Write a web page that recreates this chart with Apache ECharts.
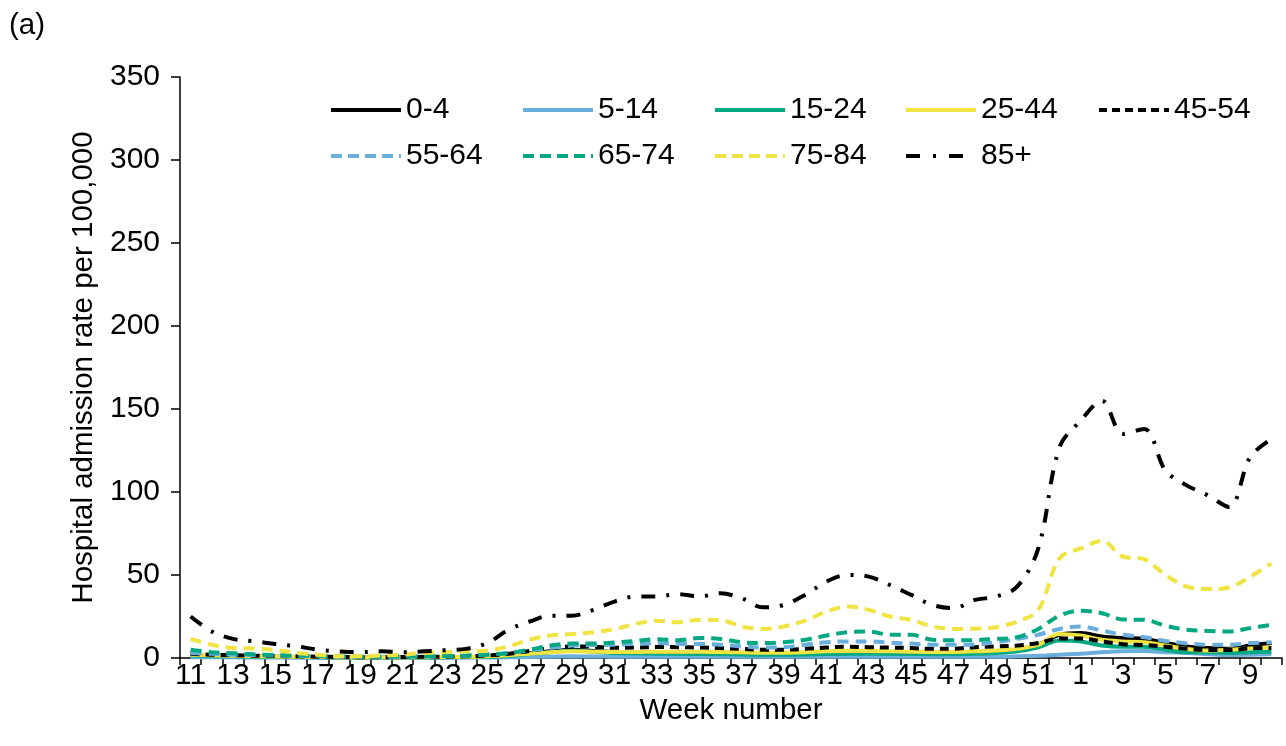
<!DOCTYPE html>
<html>
<head>
<meta charset="utf-8">
<script src="https://cdn.jsdelivr.net/npm/echarts@6/dist/echarts.min.js"></script>
<style>
html,body{margin:0;padding:0;background:#fff;}
#chart{width:1286px;height:746px;}
</style>
</head>
<body>
<div id="chart"></div>
<script>
const weeks = [11,12,13,14,15,16,17,18,19,20,21,22,23,24,25,26,27,28,29,30,31,32,33,34,35,36,37,38,39,40,41,42,43,44,45,46,47,48,49,50,51,52,1,2,3,4,5,6,7,8,9,10];

const age0_4 = [2,1.5,1.2,1,0.8,0.6,0.5,0.5,0.4,0.4,0.4,0.5,0.5,0.6,0.8,1.5,3,4,5,4.2,3.6,3.5,3.4,3.4,3.2,3,2.8,2.5,2.6,2.8,3.2,3.4,3.4,3.2,3,2.9,3,3.3,4,5,8,14,15,13,12,11.5,9,7,6,5.5,7.5,9];
const age5_14 = [0.5,0.4,0.4,0.3,0.3,0.3,0.3,0.3,0.3,0.3,0.3,0.3,0.3,0.3,0.3,0.4,0.6,0.8,1,0.9,0.8,0.8,0.8,0.8,0.8,0.8,0.8,0.8,0.8,0.8,0.8,0.8,0.8,0.8,0.8,0.8,0.8,0.8,0.8,1,1.3,2,2.5,3.5,4,4.2,3.5,3,2.3,1.8,2,2.3];
const age15_24 = [1.5,1.2,1,0.8,0.6,0.5,0.4,0.3,0.3,0.3,0.3,0.3,0.4,0.5,0.7,1.2,2.5,3.5,4.5,3.8,3,2.8,2.6,2.5,2.4,2.3,2.1,2,2,2.1,2.4,2.6,2.6,2.5,2.4,2.3,2.3,2.5,3,4,6.5,10.5,10,7.5,6.8,6.8,5,3.5,3.5,3,3.5,3.8];
const age25_44 = [2,1.6,1.3,1.1,0.9,0.7,0.6,0.5,0.4,0.4,0.5,0.5,0.6,0.7,1,1.6,2.6,3.5,4,3.8,3.6,3.6,3.8,3.8,3.7,3.6,3.4,3.2,3.2,3.5,4,4.3,4.2,4,3.8,3.6,3.6,4,4.5,5.5,8,14.5,13.5,11,10,9.5,7.5,5.5,4.5,5,5.8,6.5];
const age45_54 = [2.5,2,1.7,1.4,1.2,1,0.8,0.6,0.5,0.5,0.6,0.7,0.8,1,1.5,2.5,4.3,6,7,6.8,6.1,6.3,6.6,6.5,6.3,6,5.5,5,5,5.5,6.3,6.8,6.5,6.3,6,5.5,5.6,6.5,7,7.5,9,11.8,11.7,10,8.3,7.8,6.8,5.5,4.8,4.8,5.8,6];
const age55_64 = [3,2.5,2,1.8,1.5,1.2,1,0.8,0.7,0.7,0.8,0.9,1,1.3,2,3,4.5,6,7.5,7.8,8,8.5,9,8.5,8.5,8,7,6.3,6.5,8,9.5,10,10,9.2,8.7,8,8,8.2,9.5,11.5,14,17.5,19,16.5,14,12.5,10.3,8.8,8,8,9,9.5];
const age65_74 = [5,3.5,2.8,2.2,1.8,1.5,1.2,1,0.8,0.8,0.9,1,1.2,1.5,2,3,5,7.5,8.7,8.7,9.3,10.3,11.3,10.7,12,11.5,9.5,9,9.5,11,13.5,15.5,16,14,14,11,10.7,10.8,11.5,12.5,17.5,25.5,28.5,27,23.2,23,19.5,17,16.3,16,18,20];
const age75_84 = [11.5,8,6,5.7,4.8,3,2,1,1,1.5,2,3,3.5,4,4.5,7,11,13.5,14.5,15.5,17.5,20.5,22.5,21.5,23,22.8,19,17.5,19,22.5,28,31,29,25,23,19,17.5,17.6,18.5,22,29,60,66,70.5,61,59.5,50,43,41.5,42.5,49,57];
const age85plus = [25,16,11.5,10,8.5,7,5,4,3.5,4,3.5,4,4.7,5.5,9,17,22,25.5,25.5,29,34,37,37,38.5,37,39,36,30.5,32,38,46,50,49,44,38,32,30,35,37,43,66,127,143,155,135,138,113,104,98,91,121,132];

const seriesNames = ['0-4','5-14','15-24','25-44','45-54','55-64','65-74','75-84','85+'];
const seriesData = [age0_4,age5_14,age15_24,age25_44,age45_54,age55_64,age65_74,age75_84,age85plus];
const yTicks = [0,50,100,150,200,250,300,350];

const BLACK='#000000', BLUE='#6aaedc', GREEN='#02a882', YELLOW='#f0e442';
const styles = [
  {color:BLACK, type:'solid', leg:'solid'},
  {color:BLUE, type:'solid', leg:'solid'},
  {color:GREEN, type:'solid', leg:'solid'},
  {color:YELLOW, type:'solid', leg:'solid'},
  {color:BLACK, type:[9,6], leg:[8,5]},
  {color:BLUE, type:[11,7], leg:[11,6]},
  {color:GREEN, type:[11,7], leg:[11,6]},
  {color:YELLOW, type:[11,7], leg:[11,6]},
  {color:BLACK, type:[14,11,3,11], leg:[14,13,3,13,14,30]}
];
const FONT = 'Liberation Sans, Arial, sans-serif';
const FS = 30;
const FT = 29.5;

const legendPos = [
  [324,90],[516,90],[708,90],[899,90],[1092,90],
  [324,136],[516,136],[708,136],[899,136]
];

const chart = echarts.init(document.getElementById('chart'), null, {renderer:'canvas'});
chart.setOption({
  animation:false,
  backgroundColor:'#ffffff',
  title:{text:'(a)', left:4, top:6, textStyle:{fontFamily:FONT, fontSize:FT, fontWeight:'normal', color:'#000'}},
  legend: seriesNames.map((n,i)=>({
    data:[n], left:legendPos[i][0], top:legendPos[i][1], itemWidth:70, itemHeight:24, itemGap:0,
    textStyle:{fontFamily:FONT, fontSize:FS, color:'#000'},
    itemStyle:{opacity:0, borderWidth:0},
    lineStyle:{color:styles[i].color, width:4, type:styles[i].leg, cap:'butt'},
    selectedMode:false
  })),
  grid:{left:180, right:4, top:77, bottom:88, containLabel:false},
  xAxis:{
    type:'category', data:weeks, boundaryGap:true,
    name:'Week number', nameLocation:'middle', nameGap:38,
    nameTextStyle:{fontFamily:FONT, fontSize:FT, color:'#000'},
    axisLine:{lineStyle:{color:'#000', width:1.5}},
    axisTick:{show:true, interval:0, length:7, lineStyle:{color:'#000', width:1.5}},
    axisLabel:{interval:1, margin:3, fontFamily:FONT, fontSize:FS, color:'#000'},
    splitLine:{show:false}
  },
  yAxis:{
    type:'value', min:yTicks[0], max:yTicks[yTicks.length-1], interval:50,
    name:'Hospital admission rate per 100,000', nameLocation:'middle', nameGap:66, nameRotate:90,
    nameTextStyle:{fontFamily:FONT, fontSize:FT, color:'#000'},
    axisLine:{show:true, lineStyle:{color:'#000', width:1.5}},
    axisTick:{show:true, length:9, lineStyle:{color:'#000', width:1.5}},
    axisLabel:{margin:20, fontFamily:FONT, fontSize:FS, color:'#000'},
    splitLine:{show:false}
  },
  series: seriesNames.map((n,i)=>({
    name:n, type:'line', data:seriesData[i], smooth:0.35, symbol:'none',
    lineStyle:{color:styles[i].color, width:4, type:styles[i].type, cap:'butt'},
    itemStyle:{color:styles[i].color},
    z: 2+i
  }))
});
</script>
</body>
</html>
